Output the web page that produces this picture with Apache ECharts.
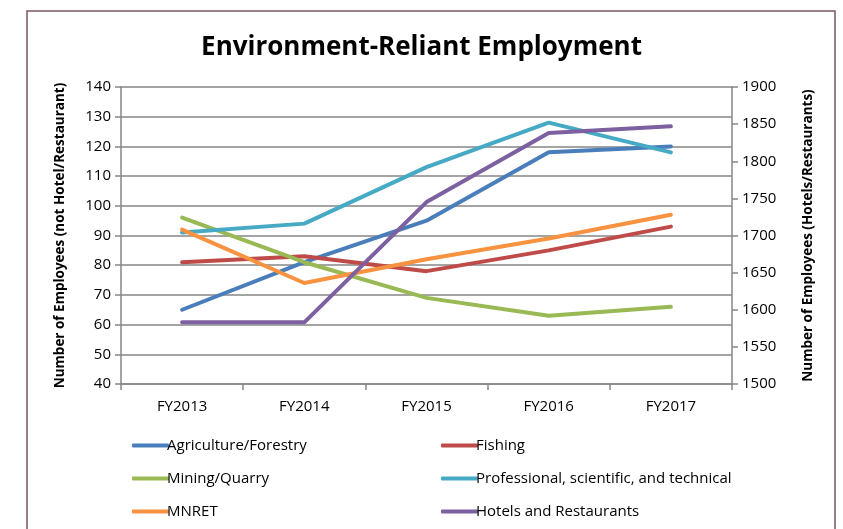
<!DOCTYPE html>
<html>
<head>
<meta charset="utf-8">
<title>Environment-Reliant Employment</title>
<script src="https://cdn.jsdelivr.net/npm/echarts@6/dist/echarts.min.js"></script>
<style>
  html, body { margin: 0; padding: 0; background: #fff; }
  #main { width: 843px; height: 529px; }
</style>
</head>
<body>
<div id="main"></div>
<script>
// categories and values
var years = ['FY2013', 'FY2014', 'FY2015', 'FY2016', 'FY2017'];
var agriculture = [65, 81, 95, 118, 120];
var fishing = [81, 83, 78, 85, 93];
var mining = [96, 81, 69, 63, 66];
var professional = [91, 94, 113, 128, 118];
var mnret = [92, 74, 82, 89, 97];
var hotels = [1583, 1583, 1745, 1838, 1847];   // right axis

var names = ['Agriculture/Forestry', 'Fishing', 'Mining/Quarry',
  'Professional, scientific, and technical', 'MNRET', 'Hotels and Restaurants'];
var colors = ['#4A7EBB', '#BE4B48', '#98B954', '#46AAC5', '#F69240', '#7D60A0'];

var font = '"Open Sans", "Noto Sans", sans-serif';
var axisGray = '#868686';

var myChart = echarts.init(document.getElementById('main'));

function mkSeries(i, data, axisIdx) {
  return {
    name: names[i],
    type: 'line',
    yAxisIndex: axisIdx,
    data: data,
    symbol: 'none',
    color: colors[i],
    lineStyle: { width: 4, color: colors[i], cap: 'round', join: 'round' }
  };
}

// one legend per item so the two columns sit where they do in the picture
var legendPos = [[127, 433], [436, 433], [127, 466], [436, 466], [127, 499], [436, 499]];
var legends = names.map(function (n, i) {
  return {
    left: legendPos[i][0], top: legendPos[i][1],
    data: [n],
    icon: 'roundRect',
    itemWidth: 37, itemHeight: 4,
    itemGap: 0,
    textStyle: { fontFamily: font, fontSize: 15, color: '#000', padding: [0, 0, 0, -7] },
    selectedMode: false
  };
});

var option = {
  animation: false,
  backgroundColor: '#fff',
  title: {
    text: 'Environment-Reliant Employment',
    left: 'center', top: 30,
    textStyle: { fontFamily: font, fontSize: 26, fontWeight: 'bold', color: '#000' }
  },
  graphic: [{
    type: 'rect',
    shape: { x: 27, y: 11, width: 808, height: 540 },
    style: { fill: 'none', stroke: '#7B5565', lineWidth: 1.5 },
    silent: true
  }],
  legend: legends,
  grid: { left: 121, right: 111, top: 87, bottom: 145 },
  xAxis: {
    type: 'category',
    data: years,
    boundaryGap: true,
    axisLine: { lineStyle: { color: axisGray, width: 1.5 } },
    axisTick: { show: true, length: 6, lineStyle: { color: axisGray, width: 1.5 } },
    axisLabel: { fontFamily: font, fontSize: 15, color: '#000', margin: 15 },
    splitLine: { show: false }
  },
  yAxis: [{
    type: 'value',
    min: 40, max: 140, interval: 10,
    position: 'left',
    name: 'Number of Employees (not Hotel/Restaurant)',
    nameLocation: 'middle',
    nameGap: 54,
    nameTextStyle: { fontFamily: font, fontSize: 13.5, fontWeight: 'bold', color: '#000' },
    axisLine: { show: true, lineStyle: { color: axisGray, width: 1.5 } },
    axisTick: { show: true, length: 6, lineStyle: { color: axisGray, width: 1.5 } },
    axisLabel: { fontFamily: font, fontSize: 15, color: '#000', margin: 10 },
    splitLine: { show: true, lineStyle: { color: axisGray, width: 1.5 } }
  }, {
    type: 'value',
    min: 1500, max: 1900, interval: 50,
    position: 'right',
    name: 'Number of Employees (Hotels/Restaurants)',
    nameLocation: 'middle',
    nameGap: 69,
    nameRotate: 90,
    nameTextStyle: { fontFamily: font, fontSize: 13.5, fontWeight: 'bold', color: '#000' },
    axisLine: { show: true, lineStyle: { color: axisGray, width: 1.5 } },
    axisTick: { show: true, length: 6, lineStyle: { color: axisGray, width: 1.5 } },
    axisLabel: {
      fontFamily: font, fontSize: 15, color: '#000', margin: 10,
      formatter: function (v) { return String(v); }
    },
    splitLine: { show: false }
  }],
  series: [
    mkSeries(0, agriculture, 0),
    mkSeries(1, fishing, 0),
    mkSeries(2, mining, 0),
    mkSeries(3, professional, 0),
    mkSeries(4, mnret, 0),
    mkSeries(5, hotels, 1)
  ]
};

myChart.setOption(option);
</script>
</body>
</html>
